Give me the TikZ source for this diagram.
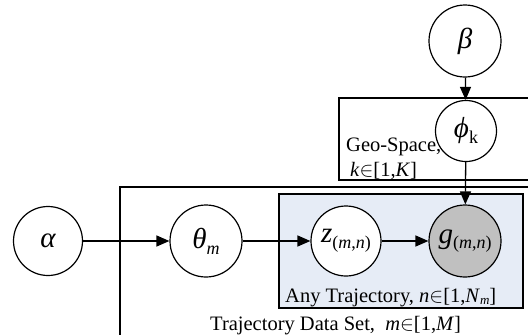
\documentclass[tikz,border=0pt]{standalone}
\usepackage{fontspec}
\setmainfont{Liberation Serif}
\usetikzlibrary{arrows.meta}
\definecolor{platebg}{RGB}{230,236,246}
\definecolor{obsfill}{RGB}{192,192,192}
\newcommand{\symf}{\fontsize{29}{32}\selectfont\itshape}
\newcommand{\subf}[1]{\raisebox{-0.2em}{\fontsize{18}{19}\selectfont #1}}
\newcommand{\subs}[1]{\raisebox{-0.12em}{\fontsize{13}{14}\selectfont #1}}
\begin{document}
\begin{tikzpicture}[x=1pt,y=-1pt,
  var/.style={circle,draw,line width=1.2pt,fill=white,inner sep=0pt,font=\symf},
  plate/.style={draw,line width=1.4pt},
  arr/.style={line width=1.3pt,-{Triangle[length=13pt,width=11pt]}},
  lbl/.style={font=\fontsize{20.5}{23}\selectfont,inner sep=0pt}]
\useasboundingbox (0,0) rectangle (528,335);
\clip (0,0) rectangle (528,335);
% plates
\draw[plate] (339,98) rectangle (545,180);
\draw[plate] (120,345) -- (120,187) -- (545,187);
\draw[plate,fill=platebg] (279,194) rectangle (523,308);
% nodes
\node[var,minimum size=69pt] (alpha) at (48,241) {α};
\node[var,minimum size=72pt] (theta) at (206,241) {θ\subf{\itshape m}};
\node[var,minimum size=70pt] (z) at (346,241) {z\subf{\upshape(\textit{m},\textit{n})}};
\node[var,minimum size=72pt,fill=obsfill] (g) at (465,241) {g\subf{\upshape(\textit{m},\textit{n})}};
\node[var,minimum size=72pt] (beta) at (465,41) {β};
\node[var,minimum size=61pt] (phi) at (466,131) {ϕ\subf{\upshape k}};
% labels
\node[lbl,anchor=base west] (geo) at (346,151) {Geo-Space,};
\node[lbl,anchor=base west] (geok) at (350,176) {\textit{k}$\in$[1,\textit{K}]};
\node[lbl,anchor=base west] (anyt) at (285,302) {Any Trajectory, \textit{n}$\in$[1,\textit{N}\subs{\itshape m}]};
\node[lbl,anchor=base west] (tds) at (210,330) {Trajectory Data Set,\ \ \textit{m}$\in$[1,\textit{M}]};
% edges
\draw[arr] (alpha) -- (theta);
\draw[arr] (theta) -- (z);
\draw[arr] (z) -- (g);
\draw[arr] (beta) -- (phi);
\draw[arr] (phi) -- (g);
\end{tikzpicture}
\end{document}
